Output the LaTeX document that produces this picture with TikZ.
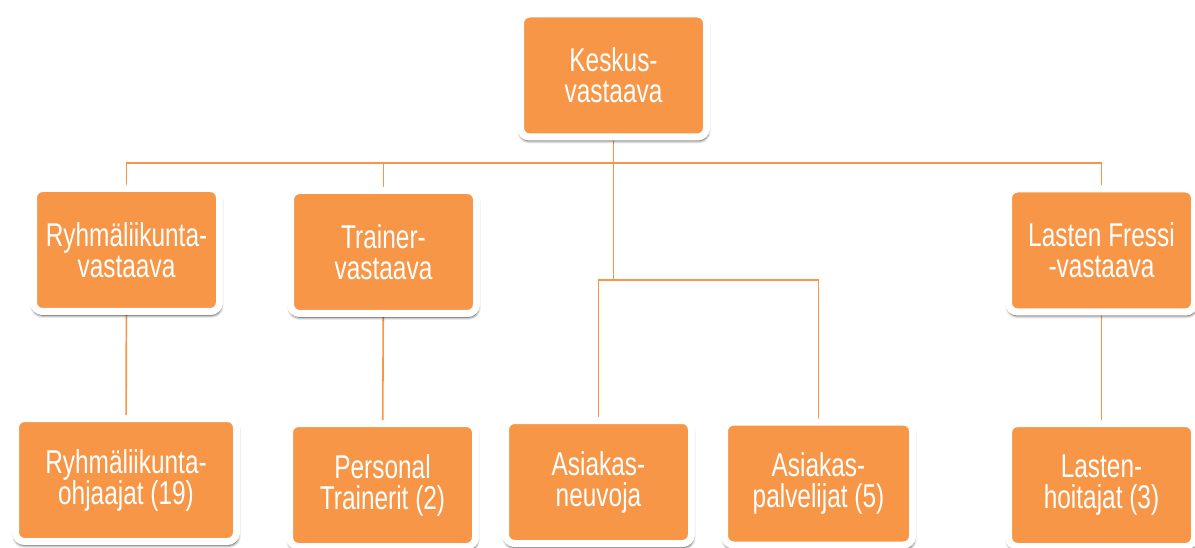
\documentclass[tikz,border=0pt]{standalone}
\usepackage{fontspec}
\setmainfont{Liberation Sans}[FakeStretch=0.74]
\usetikzlibrary{shadows.blur,backgrounds}

\definecolor{fressi}{HTML}{F79646}

\tikzset{
  unit/.style={rectangle, rounded corners=9pt, fill=fressi, draw=white, line width=7pt,
    minimum width=186pt, minimum height=123pt, text=white, align=center,
    font=\fontsize{33}{31}\selectfont,
    blur shadow={shadow blur steps=8, shadow blur radius=3pt, shadow xshift=0.5pt,
      shadow yshift=-3pt, shadow opacity=75, shadow scale=1.01}},
  link/.style={fressi, line width=1.6pt}
}

\begin{document}
\begin{tikzpicture}[x=1pt, y=-1pt]
    \useasboundingbox (0,0) rectangle (1195,548);

    % johto
    \node[unit] (keskus) at (613.5,75.5) {Keskus-\\vastaava};

    % vastaavat
    \node[unit] (ryhma) at (126.5,250) {Ryhmäliikunta-\\vastaava};
    \node[unit] (trainer) at (383.5,252) {Trainer-\\vastaava};
    \node[unit] (lasten) at (1101.5,250.5) {Lasten Fressi\\-vastaava};

    % henkilöstö
    \node[unit, minimum width=221pt] (ohjaajat) at (126,480) {Ryhmäliikunta-\\ohjaajat (19)};
    \node[unit] (personal) at (382.5,485) {Personal\\Trainerit (2)};
    \node[unit] (neuvoja) at (598.5,482) {Asiakas-\\neuvoja};
    \node[unit, minimum width=188pt] (palvelijat) at (818.5,483.5) {Asiakas-\\palvelijat (5)};
    \node[unit] (hoitajat) at (1101.5,485) {Lasten-\\hoitajat (3)};

    \coordinate (bus) at (613.5,163);
    \coordinate (asiakas) at (613.5,280);

    \begin{scope}[on background layer]
        \draw[link] (keskus) -- (asiakas);
        \draw[link] (bus) -| (ryhma);
        \draw[link] (bus) -| (trainer);
        \draw[link] (bus) -| (lasten);
        \draw[link] (asiakas) -| (neuvoja);
        \draw[link] (asiakas) -| (palvelijat);
        \draw[link] (ryhma) -- (ohjaajat);
        \draw[link] (trainer) -- (personal);
        \draw[link] (lasten) -- (hoitajat);
    \end{scope}
\end{tikzpicture}
\end{document}
